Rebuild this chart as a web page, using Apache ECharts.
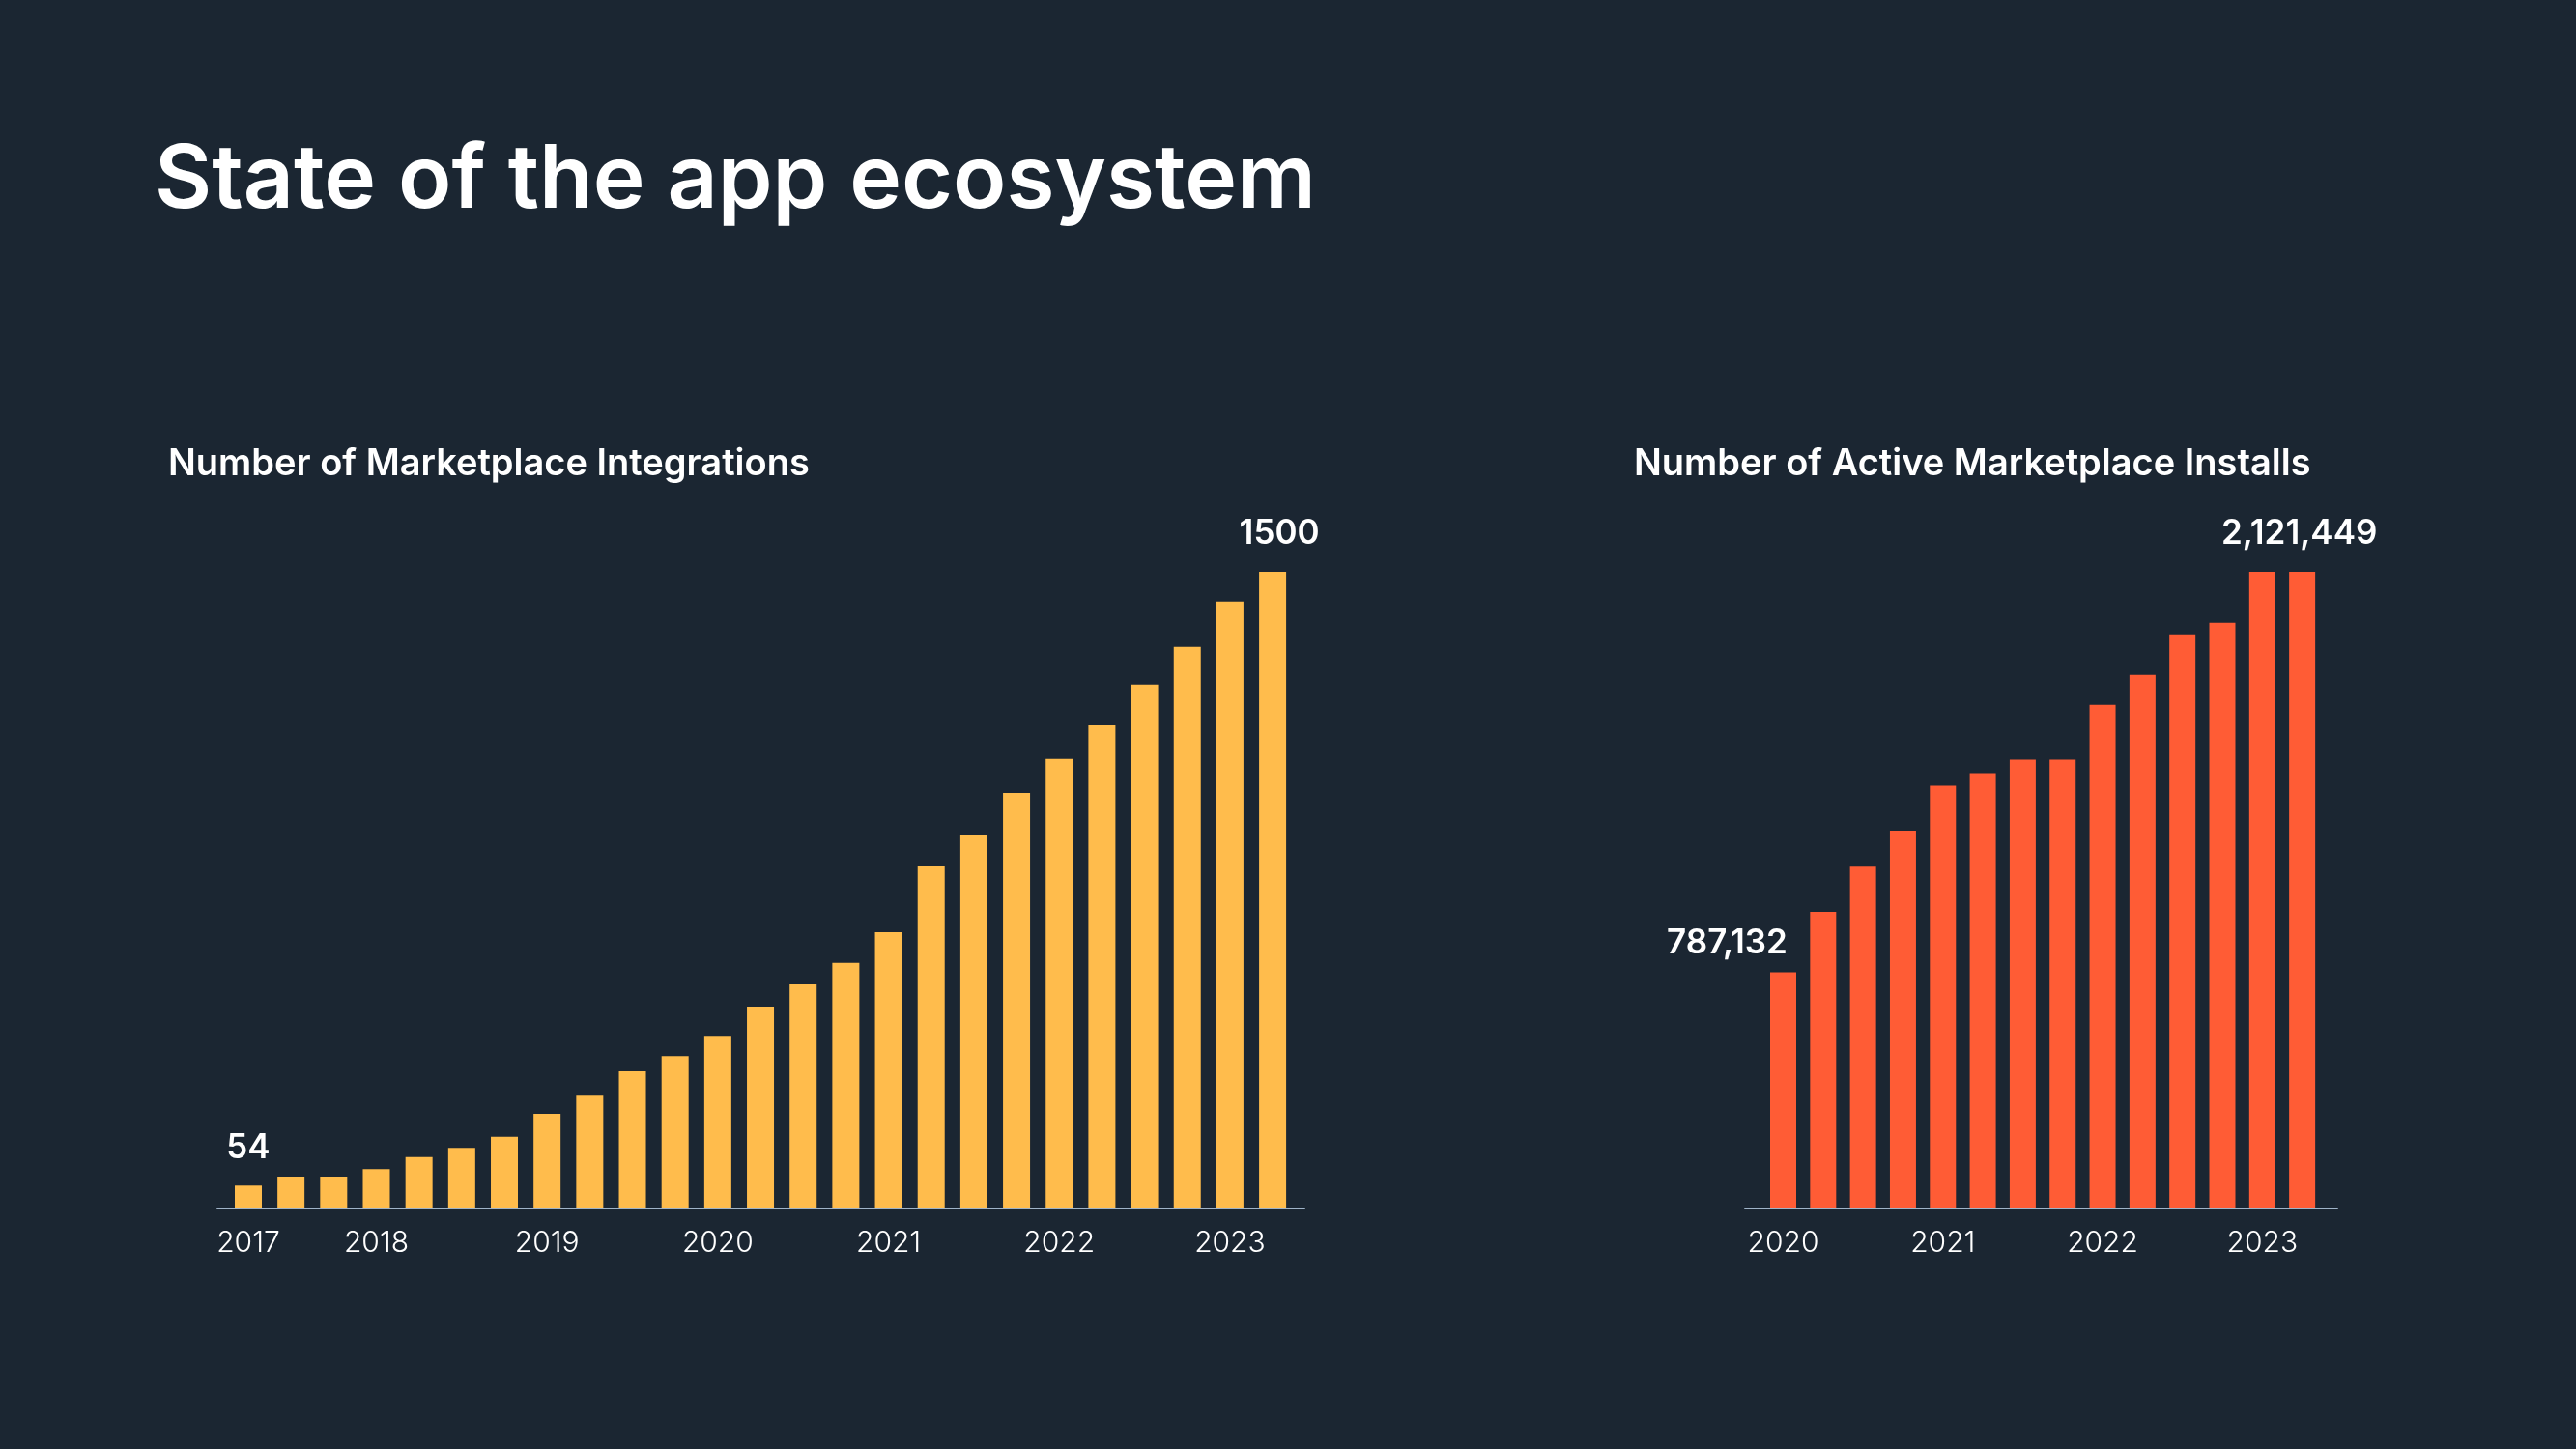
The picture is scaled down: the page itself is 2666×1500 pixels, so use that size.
<!DOCTYPE html>
<html>
<head>
<meta charset="utf-8">
<script src="https://cdn.jsdelivr.net/npm/echarts@6/dist/echarts.min.js"></script>
<style>
html,body{margin:0;padding:0;background:#1b2632;}
#chart{width:2666px;height:1500px;}
</style>
</head>
<body>
<div id="chart"></div>
<script>
const pageTitle = 'State of the app ecosystem';
const leftTitle = 'Number of Marketplace Integrations';
const rightTitle = 'Number of Active Marketplace Installs';

const integrationQuarters = [
  '2017 Q2','2017 Q3','2017 Q4',
  '2018 Q1','2018 Q2','2018 Q3','2018 Q4',
  '2019 Q1','2019 Q2','2019 Q3','2019 Q4',
  '2020 Q1','2020 Q2','2020 Q3','2020 Q4',
  '2021 Q1','2021 Q2','2021 Q3','2021 Q4',
  '2022 Q1','2022 Q2','2022 Q3','2022 Q4',
  '2023 Q1','2023 Q2'
];
const integrationValues = [54, 75, 75, 93, 121, 143, 169, 223, 266, 323, 359, 407, 476, 528, 579, 651, 808, 881, 979, 1059, 1138, 1234, 1323, 1430, 1500];

const installQuarters = [
  '2020 Q1','2020 Q2','2020 Q3','2020 Q4',
  '2021 Q1','2021 Q2','2021 Q3','2021 Q4',
  '2022 Q1','2022 Q2','2022 Q3','2022 Q4',
  '2023 Q1','2023 Q2'
];
const installValues = [787132, 988000, 1142000, 1259000, 1408000, 1450000, 1495000, 1495000, 1678000, 1778000, 1913000, 1952000, 2121449, 2121449];

const FONT = 'Inter, "Noto Sans", sans-serif';
const BG = '#1b2632';
const YELLOW = '#ffbc4c';
const ORANGE = '#ff5c35';
const AXIS = '#9fb3c8';

// tick positions: first bar of each year
function yearTicks(quarters) {
  const idx = [];
  let last = null;
  quarters.forEach((q, i) => {
    const y = q.split(' ')[0];
    if (y !== last) { idx.push(i); last = y; }
  });
  return idx;
}
const leftTicks = yearTicks(integrationQuarters);
const rightTicks = yearTicks(installQuarters);

function fmt(n) { return n.toLocaleString('en-US'); }

function xAxisFor(gridIndex, quarters, ticks, min, max) {
  return {
    type: 'value', gridIndex, min, max,
    axisLine: { show: true, lineStyle: { color: AXIS, width: 2 } },
    axisTick: { show: false },
    splitLine: { show: false },
    axisLabel: {
      customValues: ticks,
      showMinLabel: true, showMaxLabel: true, hideOverlap: false,
      formatter: v => quarters[Math.round(v)] ? quarters[Math.round(v)].split(' ')[0] : '',
      color: '#ffffff', fontFamily: FONT, fontSize: 30, fontWeight: 300, margin: 21
    }
  };
}

function labelItem(value, offset, distance, formatter) {
  return {
    value,
    label: {
      show: true, position: 'top', distance, offset,
      color: '#ffffff', fontFamily: FONT, fontSize: 35, fontWeight: 600,
      formatter
    }
  };
}

const leftData = integrationValues.map((v, i) => {
  if (i === 0) return labelItem([i, v], [0, 0], 21, p => String(p.value[1]));
  if (i === integrationValues.length - 1) return labelItem([i, v], [7, 0], 22, p => String(p.value[1]));
  return [i, v];
});
const rightData = installValues.map((v, i) => {
  if (i === 0) return labelItem([i, v], [-58, 0], 13, p => fmt(p.value[1]));
  if (i === installValues.length - 1) return labelItem([i, v], [-3, 0], 22, p => fmt(p.value[1]));
  return [i, v];
});

const chart = echarts.init(document.getElementById('chart'), null, { renderer: 'canvas' });
chart.setOption({
  backgroundColor: BG,
  animation: false,
  title: [
    { text: pageTitle, left: 155, top: 137,
      textStyle: { color: '#ffffff', fontFamily: FONT, fontSize: 91, fontWeight: 600 } },
    { text: leftTitle, left: 169, top: 457,
      textStyle: { color: '#ffffff', fontFamily: FONT, fontSize: 38, fontWeight: 600 } },
    { text: rightTitle, left: 1686, top: 457,
      textStyle: { color: '#ffffff', fontFamily: FONT, fontSize: 38, fontWeight: 600 } }
  ],
  grid: [
    { left: 225, right: 2666 - 1350, top: 592, bottom: 1500 - 1251, containLabel: false },
    { left: 1806, right: 2666 - 2419, top: 592, bottom: 1500 - 1251, containLabel: false }
  ],
  xAxis: [
    xAxisFor(0, integrationQuarters, leftTicks, -0.724, 24.745),
    xAxisFor(1, installQuarters, rightTicks, -0.956, 13.88)
  ],
  yAxis: [
    { type: 'value', gridIndex: 0, min: 0, max: 1500, show: false },
    { type: 'value', gridIndex: 1, min: 0, max: 2121449, show: false }
  ],
  series: [
    { type: 'bar', xAxisIndex: 0, yAxisIndex: 0, barWidth: 28, data: leftData,
      itemStyle: { color: YELLOW }, z: 1 },
    { type: 'bar', xAxisIndex: 1, yAxisIndex: 1, barWidth: 27, data: rightData,
      itemStyle: { color: ORANGE }, z: 1 }
  ]
});
</script>
</body>
</html>
